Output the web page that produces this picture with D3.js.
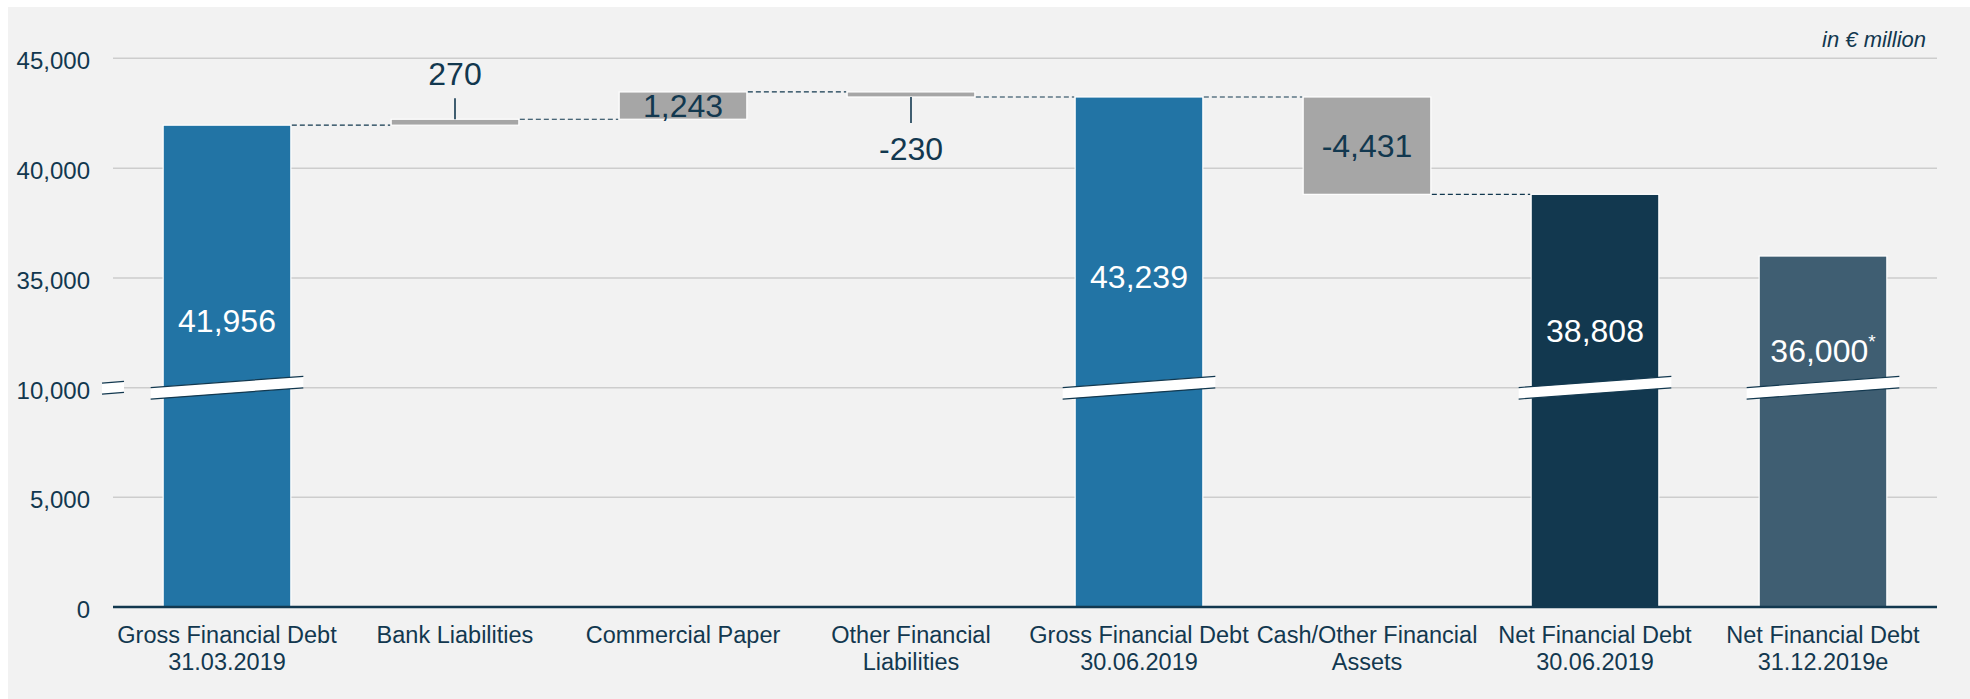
<!DOCTYPE html>
<html>
<head>
<meta charset="utf-8">
<script src="https://cdn.jsdelivr.net/npm/d3@7"></script>
<style>
  body { margin: 0; background: #fff; }
  text { font-family: "Liberation Sans", Arial, sans-serif; }
</style>
</head>
<body>
<div id="chart"></div>
<script>
// data (in € million)
var categories = [
	["Gross Financial Debt", "31.03.2019"],
	["Bank Liabilities"],
	["Commercial Paper"],
	["Other Financial", "Liabilities"],
	["Gross Financial Debt", "30.06.2019"],
	["Cash/Other Financial", "Assets"],
	["Net Financial Debt", "30.06.2019"],
	["Net Financial Debt", "31.12.2019e"]
];
var values = [41956, 270, 1243, -230, 43239, -4431, 38808, 36000];
var kinds = ["total", "delta", "delta", "delta", "total", "delta", "total", "total"];
var notes = ["", "", "", "", "", "", "", "*"];
var yTicks = [0, 5000, 10000, 35000, 40000, 45000];
var breakValue = 10000;
var unitLabel = "in € million";

var width = 1970, height = 699;
var navy = "#12384f";
var totalColors = ["#2274a5", null, null, null, "#2274a5", null, "#12384f", "#3f5e72"];
var deltaColor = "#a6a6a6";
// how high the value label sits above the axis break, per total bar
var labelLift = [56, 100, 46, 26];

var svg = d3.select("#chart")
	.append("svg")
	.attr("width", width)
	.attr("height", height);

svg.append("rect")
	.attr("x", 8).attr("y", 7)
	.attr("width", width - 8).attr("height", height - 7)
	.attr("fill", "#f2f2f2");

var x = d3.scaleBand()
	.domain(d3.range(categories.length))
	.range([113, 1937])
	.paddingInner(0.44)
	.paddingOuter(0.22);

// broken axis: 10,000 -> 35,000 is squeezed into one step
var y = d3.scaleLinear()
	.domain([0, 10000, 35000, 45000])
	.range([607, 387.7, 278, 58.3]);

// plain hyphen for negatives, like the original
var fmt = d3.formatLocale({ decimal: ".", thousands: ",", grouping: [3], currency: ["", ""], minus: "-" }).format(",");

// running totals for the waterfall
var bars = [];
var running = 0;
values.forEach(function(v, i) {
	var start, end;
	if (kinds[i] == "total") { start = 0; end = v; }
	else { start = running; end = running + v; }
	running = end;
	bars.push({ i: i, value: v, start: start, end: end, kind: kinds[i] });
});

// gridlines
svg.selectAll(".grid")
	.data(yTicks.filter(function(t) { return t > 0; }))
	.enter()
	.append("line")
		.attr("x1", 113).attr("x2", 1937)
		.attr("y1", function(d) { return y(d); })
		.attr("y2", function(d) { return y(d); })
		.attr("stroke", "#cdcdcd")
		.attr("stroke-width", 1.5);

// y tick labels
svg.selectAll(".ytick")
	.data(yTicks)
	.enter()
	.append("text")
		.attr("x", 90)
		.attr("y", function(d) { return y(d) + 11; })
		.attr("text-anchor", "end")
		.attr("font-size", "24px")
		.attr("fill", navy)
		.text(function(d) { return fmt(d); });

// bars
svg.selectAll(".bar")
	.data(bars)
	.enter()
	.append("rect")
		.attr("x", function(d) { return x(d.i); })
		.attr("width", x.bandwidth())
		.attr("y", function(d) { return y(Math.max(d.start, d.end)); })
		.attr("height", function(d) { return Math.abs(y(d.start) - y(d.end)); })
		.attr("fill", function(d) { return d.kind == "total" ? totalColors[d.i] : deltaColor; })
		.attr("stroke", "#ffffff")
		.attr("stroke-width", 1.2);

// axis line
svg.append("line")
	.attr("x1", 113).attr("x2", 1937)
	.attr("y1", y(0)).attr("y2", y(0))
	.attr("stroke", navy)
	.attr("stroke-width", 2.5);

// dashed connectors (only where the next bar continues the total)
for (var k = 0; k < bars.length - 1; k++) {
	var a = bars[k], b = bars[k + 1];
	var nextStart = b.kind == "total" ? b.end : b.start;
	if (nextStart != a.end) continue;
	svg.append("line")
		.attr("x1", x(a.i) + x.bandwidth() + 1)
		.attr("x2", x(b.i) - 1)
		.attr("y1", y(a.end)).attr("y2", y(a.end))
		.attr("stroke", navy)
		.attr("stroke-width", 1.2)
		.attr("stroke-dasharray", "5,3");
}

// axis break marks
function breakMark(cx, halfW, thick, slope) {
	var yb = y(breakValue);
	var g = svg.append("g");
	var lt = [cx - halfW, yb + slope * halfW - thick / 2];
	var lb = [cx - halfW, yb + slope * halfW + thick / 2];
	var rt = [cx + halfW, yb - slope * halfW - thick / 2];
	var rb = [cx + halfW, yb - slope * halfW + thick / 2];
	g.append("polygon")
		.attr("points", [lt, rt, rb, lb].join(" "))
		.attr("fill", "#ffffff");
	g.append("line").attr("x1", lt[0]).attr("y1", lt[1]).attr("x2", rt[0]).attr("y2", rt[1])
		.attr("stroke", navy).attr("stroke-width", 1.2);
	g.append("line").attr("x1", lb[0]).attr("y1", lb[1]).attr("x2", rb[0]).attr("y2", rb[1])
		.attr("stroke", navy).attr("stroke-width", 1.2);
}
breakMark(113, 11, 11, 0.08);
bars.filter(function(d) { return d.kind == "total"; }).forEach(function(d) {
	breakMark(x(d.i) + x.bandwidth() / 2, x.bandwidth() / 2 + 12.5, 11.5, 0.0734);
});

// value labels
var t = 0;
bars.forEach(function(d) {
	var cx = x(d.i) + x.bandwidth() / 2;
	if (d.kind == "total") {
		var txt = svg.append("text")
			.attr("x", cx)
			.attr("y", y(breakValue) - labelLift[t++])
			.attr("text-anchor", "middle")
			.attr("font-size", "32px")
			.attr("fill", "#ffffff")
			.text(fmt(d.value));
		if (notes[d.i]) {
			txt.append("tspan")
				.attr("font-size", "19px")
				.attr("dy", -14)
				.text(notes[d.i]);
		}
		return;
	}
	var top = y(Math.max(d.start, d.end)), bottom = y(Math.min(d.start, d.end));
	if (bottom - top > 15) {
		svg.append("text")
			.attr("x", cx)
			.attr("y", (top + bottom) / 2 + 11.5)
			.attr("text-anchor", "middle")
			.attr("font-size", "32px")
			.attr("fill", navy)
			.text(fmt(d.value));
	} else if (d.value > 0) {
		svg.append("line")
			.attr("x1", cx).attr("x2", cx)
			.attr("y1", top).attr("y2", top - 21)
			.attr("stroke", navy).attr("stroke-width", 1.6);
		svg.append("text")
			.attr("x", cx)
			.attr("y", top - 34)
			.attr("text-anchor", "middle")
			.attr("font-size", "32px")
			.attr("fill", navy)
			.text(fmt(d.value));
	} else {
		svg.append("line")
			.attr("x1", cx).attr("x2", cx)
			.attr("y1", bottom).attr("y2", bottom + 26)
			.attr("stroke", navy).attr("stroke-width", 1.6);
		svg.append("text")
			.attr("x", cx)
			.attr("y", bottom + 63)
			.attr("text-anchor", "middle")
			.attr("font-size", "32px")
			.attr("fill", navy)
			.text(fmt(d.value));
	}
});

// category labels
svg.selectAll(".cat")
	.data(categories)
	.enter()
	.append("text")
		.attr("x", function(d, i) { return x(i) + x.bandwidth() / 2; })
		.attr("y", 643)
		.attr("text-anchor", "middle")
		.attr("font-size", "23.5px")
		.attr("fill", navy)
		.each(function(d) {
			var el = d3.select(this);
			d.forEach(function(line, j) {
				el.append("tspan")
					.attr("x", el.attr("x"))
					.attr("dy", j == 0 ? 0 : 27)
					.text(line);
			});
		});

// unit note
svg.append("text")
	.attr("x", 1926)
	.attr("y", 47)
	.attr("text-anchor", "end")
	.attr("font-size", "22px")
	.attr("font-style", "italic")
	.attr("fill", navy)
	.text(unitLabel);
</script>
</body>
</html>
